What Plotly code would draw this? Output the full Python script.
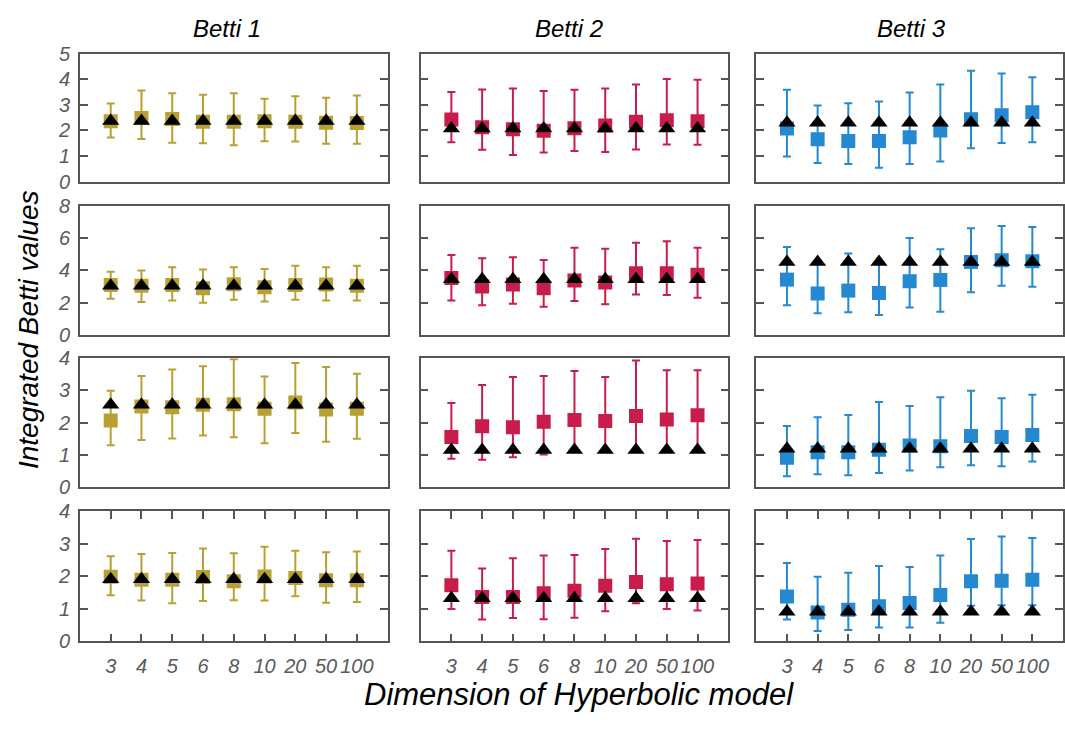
import plotly.graph_objects as go

categories = ["3", "4", "5", "6", "8", "10", "20", "50", "100"]
col_titles = ["Betti 1", "Betti 2", "Betti 3"]
y_max = [5, 8, 4, 4]
y_dtick = [1, 2, 1, 1]

# Betti 1 (rows 1-4)
b1_mean = [[2.36, 2.49, 2.45, 2.34, 2.34, 2.36, 2.34, 2.30, 2.29],
           [3.09, 3.05, 3.10, 2.90, 3.15, 2.95, 3.09, 3.13, 3.05],
           [2.07, 2.50, 2.48, 2.56, 2.57, 2.43, 2.63, 2.41, 2.43],
           [1.99, 1.90, 1.90, 1.98, 1.85, 2.00, 1.95, 1.88, 1.88]]
b1_hi = [[3.05, 3.56, 3.45, 3.40, 3.45, 3.24, 3.34, 3.28, 3.37],
         [3.91, 3.99, 4.20, 4.05, 4.20, 4.09, 4.29, 4.20, 4.29],
         [2.99, 3.45, 3.65, 3.75, 3.97, 3.43, 3.85, 3.73, 3.52],
         [2.62, 2.69, 2.72, 2.86, 2.71, 2.91, 2.79, 2.74, 2.77]]
b1_lo = [[1.73, 1.67, 1.52, 1.50, 1.42, 1.58, 1.57, 1.48, 1.48],
         [2.24, 2.04, 2.14, 2.00, 2.18, 2.08, 2.18, 2.14, 2.14],
         [1.30, 1.46, 1.51, 1.60, 1.55, 1.36, 1.68, 1.41, 1.50],
         [1.42, 1.26, 1.17, 1.24, 1.27, 1.26, 1.39, 1.19, 1.21]]
b1_tri = [[2.37] * 9, [3.05] * 9, [2.56] * 9, [1.91] * 9]

# Betti 2
b2_mean = [[2.43, 2.13, 2.05, 1.99, 2.09, 2.19, 2.34, 2.40, 2.36],
           [3.53, 3.00, 3.13, 2.90, 3.37, 3.25, 3.83, 3.83, 3.73],
           [1.56, 1.89, 1.86, 2.03, 2.08, 2.05, 2.21, 2.10, 2.23],
           [1.73, 1.37, 1.37, 1.48, 1.56, 1.71, 1.83, 1.76, 1.78]]
b2_hi = [[3.50, 3.60, 3.64, 3.54, 3.59, 3.64, 3.80, 4.01, 3.98],
         [4.95, 4.75, 4.81, 4.65, 5.41, 5.35, 5.71, 5.81, 5.41],
         [2.61, 3.17, 3.42, 3.45, 3.60, 3.42, 3.93, 3.63, 3.63],
         [2.79, 2.24, 2.56, 2.64, 2.66, 2.84, 3.16, 3.09, 3.12]]
b2_lo = [[1.54, 1.25, 1.04, 1.14, 1.20, 1.16, 1.26, 1.45, 1.44],
         [2.14, 1.84, 1.94, 1.74, 2.10, 1.90, 2.50, 2.48, 2.30],
         [0.88, 0.85, 0.93, 1.01, 1.10, 1.10, 1.12, 1.12, 1.12],
         [1.00, 0.67, 0.72, 0.68, 0.73, 0.93, 1.17, 1.00, 0.95]]
b2_tri = [[2.08] * 9, [3.45] * 9, [1.15] * 9, [1.33] * 9]

# Betti 3
b3_mean = [[2.08, 1.66, 1.59, 1.59, 1.74, 2.00, 2.44, 2.59, 2.71],
           [3.43, 2.57, 2.75, 2.60, 3.33, 3.41, 4.53, 4.63, 4.57],
           [0.91, 1.08, 1.08, 1.16, 1.29, 1.27, 1.59, 1.56, 1.62],
           [1.38, 0.89, 0.97, 1.08, 1.18, 1.43, 1.85, 1.87, 1.90]]
b3_hi = [[3.59, 2.98, 3.06, 3.13, 3.48, 3.80, 4.33, 4.23, 4.08],
         [5.45, 4.50, 5.05, 4.50, 6.01, 5.31, 6.61, 6.75, 6.69],
         [1.90, 2.17, 2.24, 2.64, 2.52, 2.79, 2.99, 2.76, 2.87],
         [2.41, 1.99, 2.11, 2.32, 2.29, 2.64, 3.15, 3.23, 3.18]]
b3_lo = [[0.98, 0.73, 0.69, 0.54, 0.69, 0.79, 1.31, 1.51, 1.54],
         [1.84, 1.34, 1.40, 1.24, 1.70, 1.44, 2.65, 3.05, 2.99],
         [0.34, 0.40, 0.37, 0.44, 0.52, 0.62, 0.68, 0.65, 0.80],
         [0.67, 0.32, 0.35, 0.43, 0.43, 0.57, 1.10, 1.11, 1.11]]
b3_tri = [[2.30] * 9, [4.52] * 9, [1.19] * 9, [0.91] * 9]

colors = ["#B9A032", "#C81C4A", "#2489D0"]
means = [b1_mean, b2_mean, b3_mean]
his = [b1_hi, b2_hi, b3_hi]
los = [b1_lo, b2_lo, b3_lo]
tris = [b1_tri, b2_tri, b3_tri]

W, H = 1065, 729
col_px = [(80, 388), (421, 729), (757, 1064)]
row_px = [(44, 176), (201, 334), (358, 491), (516, 650)]
title_x_px = [227, 570, 912]

FONT = "Arial, Liberation Sans, sans-serif"
TICKCOL = "#5a5a5a"
FRAME = "#555555"

xpos = list(range(1, len(categories) + 1))

fig = go.Figure()
layout = {}
for r in range(4):
    for c in range(3):
        n = r * 3 + c + 1
        sfx = "" if n == 1 else str(n)
        xa, ya = "x" + sfx, "y" + sfx
        m = means[c][r]
        hi = his[c][r]
        lo = los[c][r]
        fig.add_trace(go.Scatter(
            x=xpos, y=m, mode="markers", xaxis=xa, yaxis=ya,
            marker=dict(symbol="square", size=14, color=colors[c], line=dict(width=0)),
            error_y=dict(type="data", symmetric=False,
                         array=[h - v for h, v in zip(hi, m)],
                         arrayminus=[v - l for v, l in zip(m, lo)],
                         color=colors[c], thickness=2, width=4),
            showlegend=False, hoverinfo="skip"))
        fig.add_trace(go.Scatter(
            x=xpos, y=tris[c][r], mode="markers", xaxis=xa, yaxis=ya,
            marker=dict(symbol="triangle-up", size=15, color="black", line=dict(width=0)),
            showlegend=False, hoverinfo="skip"))
        x0, x1 = col_px[c]
        y0, y1 = row_px[r]
        bottom = (r == 3)
        layout["xaxis" + sfx] = dict(
            domain=[x0 / W, x1 / W], anchor=ya, range=[0, 10],
            tickmode="array", tickvals=xpos, ticktext=categories,
            showticklabels=bottom, ticks="inside" if bottom else "",
            ticklen=8, tickwidth=1.5, tickcolor=FRAME,
            mirror="ticks" if bottom else True,
            showline=True, linecolor=FRAME, linewidth=1.5,
            showgrid=False, zeroline=False,
            tickfont=dict(family=FONT, size=20, color=TICKCOL, style="italic"),
            ticklabelstandoff=6,
            fixedrange=True)
        layout["yaxis" + sfx] = dict(
            domain=[1 - y1 / H, 1 - y0 / H], anchor=xa, range=[0, y_max[r]],
            dtick=y_dtick[r], tick0=0,
            showticklabels=(c == 0), ticks="inside", ticklen=8, tickwidth=1.5,
            tickcolor=FRAME, mirror="ticks",
            showline=True, linecolor=FRAME, linewidth=1.5,
            showgrid=False, zeroline=False,
            tickfont=dict(family=FONT, size=20, color=TICKCOL, style="italic"),
            ticklabelstandoff=4,
            fixedrange=True)

annotations = []
for c in range(3):
    annotations.append(dict(
        x=title_x_px[c] / W, y=1 - 18 / H, xref="paper", yref="paper",
        text=col_titles[c], showarrow=False, xanchor="center", yanchor="middle",
        font=dict(family=FONT, size=24, color="black", style="italic")))
annotations.append(dict(
    x=28 / W, y=1 - 328 / H, xref="paper", yref="paper",
    text="Integrated Betti values", showarrow=False, textangle=-90,
    xanchor="center", yanchor="middle",
    font=dict(family=FONT, size=28, color="black", style="italic")))
annotations.append(dict(
    x=580 / W, y=1 - 705 / H, xref="paper", yref="paper",
    text="Dimension of Hyperbolic model", showarrow=False,
    xanchor="center", yanchor="middle",
    font=dict(family=FONT, size=31, color="black", style="italic")))

fig.update_layout(
    width=W, height=H, margin=dict(l=0, r=0, t=0, b=0),
    paper_bgcolor="white", plot_bgcolor="white",
    annotations=annotations, **layout)

fig.write_html("out.html", config={"displayModeBar": False},
               post_script="document.body.style.margin='0';")
